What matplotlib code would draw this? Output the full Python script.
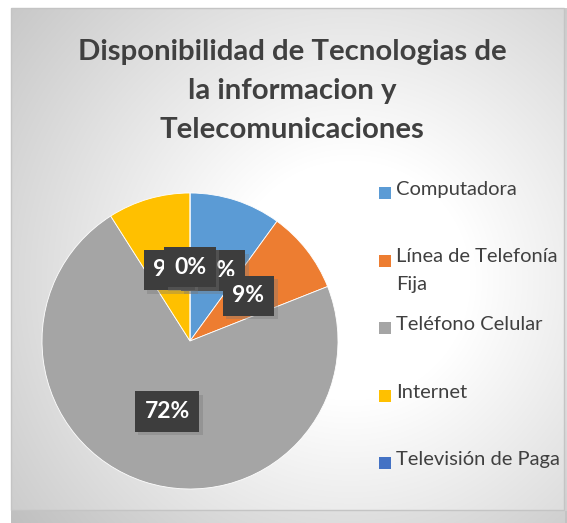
import textwrap
import numpy as np
import matplotlib
matplotlib.use("Agg")
import matplotlib.pyplot as plt
import matplotlib.patheffects as pe
from matplotlib.patches import Rectangle

categories = ["Computadora", "Línea de Telefonía Fija", "Teléfono Celular",
              "Internet", "Televisión de Paga"]
shares = [10, 9, 72, 9, 0]
colors = ["#5B9BD5", "#ED7D31", "#A5A5A5", "#FFC000", "#4472C4"]
title = "Disponibilidad de Tecnologias de\nla informacion y\nTelecomunicaciones"

W, H = 567, 523
fig = plt.figure(figsize=(W / 100, H / 100), dpi=100)
fig.patch.set_facecolor("white")

# chart-area background: soft radial gradient
bg = fig.add_axes([0, 0, 1, 1])
bg.set_xlim(0, W)
bg.set_ylim(H, 0)
bg.axis("off")
x0, y0, x1, y1 = 11, 8, 564, 510
xx, yy = np.meshgrid(np.arange(x0, W), np.arange(y0, H))
d = np.hypot(xx - 350, yy - 280)
v = 255 - 55 * np.clip((d - 120) / 315, 0, 1.3)
v[yy > y1] -= 12
v[xx > x1] -= 12
img = np.dstack([v, v, v]) / 255.0
bg.imshow(img, extent=(x0, W, H, y0), interpolation="bilinear", zorder=0)
bg.add_patch(Rectangle((x0, y0), x1 - x0, y1 - y0, fill=False,
                       edgecolor="#c4c4c4", linewidth=1.0, zorder=1))

fig.text(292 / W, 1 - 91 / H, title, ha="center", va="center",
         fontsize=21.2, fontweight="bold", family="Lato", color="#404040",
         linespacing=1.63)

# pie
cx, cy, R = 190, 341, 148
ax = fig.add_axes([(cx - R) / W, (H - cy - R) / H, 2 * R / W, 2 * R / H])
wedges, texts, autotexts = ax.pie(
    shares, colors=colors, startangle=90, counterclock=False,
    autopct="%1.0f%%", pctdistance=0.5, radius=1,
    wedgeprops=dict(edgecolor="white", linewidth=0.6),
    textprops=dict(color="white", fontsize=16.5, fontweight="bold",
                   family="Lato"))
ax.set_xlim(-1, 1)
ax.set_ylim(-1, 1)
for t in autotexts:
    t.set_bbox(dict(boxstyle="square,pad=0.42", facecolor="#3d3d3d",
                    edgecolor="none"))
    t.get_bbox_patch().set_path_effects(
        [pe.SimplePatchShadow(offset=(2.5, -2.5), shadow_rgbFace="#777777",
                              alpha=0.35), pe.Normal()])

# legend
lx, ly0, step = 379, 193, 67.5
for i, (cat, col) in enumerate(zip(categories, colors)):
    y = ly0 + i * step
    bg.add_patch(Rectangle((lx, y - 6), 12, 12, facecolor=col,
                           edgecolor="none", zorder=3))
    bg.text(lx + 17, y - 12, textwrap.fill(cat, 18), ha="left", va="top",
            fontsize=14.5, family="Lato", color="#404040",
            linespacing=1.75, zorder=3)

plt.savefig("out.png", dpi=100)
